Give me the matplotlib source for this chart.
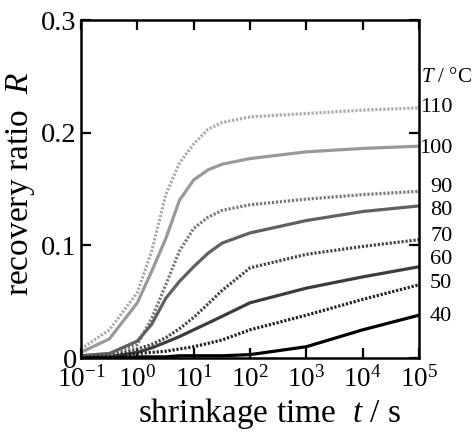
import matplotlib
matplotlib.use("Agg")
import matplotlib.pyplot as plt
from matplotlib.ticker import LogFormatterMathtext, FixedLocator, NullLocator

plt.rcParams['font.family'] = ['Liberation Serif', 'DejaVu Serif']
plt.rcParams['mathtext.fontset'] = 'custom'
plt.rcParams['mathtext.rm'] = 'Liberation Serif'
plt.rcParams['mathtext.it'] = 'Liberation Serif:italic'
plt.rcParams['mathtext.bf'] = 'Liberation Serif:bold'

# shrinkage time grid (s)
t = [0.1, 0.32, 1, 1.8, 3.2, 5.6, 10, 18, 32, 100, 1e3, 1e4, 1e5]

temps = [110, 100, 90, 80, 70, 60, 50, 40]
R110 = [0.008, 0.025, 0.058, 0.095, 0.145, 0.173, 0.190, 0.203, 0.209, 0.214, 0.217, 0.220, 0.222]
R100 = [0.005, 0.017, 0.049, 0.077, 0.106, 0.140, 0.158, 0.167, 0.172, 0.177, 0.183, 0.186, 0.188]
R90 = [0.002, 0.004, 0.012, 0.035, 0.065, 0.095, 0.115, 0.125, 0.131, 0.136, 0.141, 0.145, 0.148]
R80 = [0.002, 0.004, 0.015, 0.030, 0.053, 0.068, 0.081, 0.093, 0.102, 0.111, 0.122, 0.130, 0.135]
R70 = [0.001, 0.002, 0.008, 0.012, 0.018, 0.026, 0.036, 0.048, 0.060, 0.080, 0.092, 0.099, 0.105]
R60 = [0.000, 0.001, 0.005, 0.009, 0.014, 0.019, 0.025, 0.031, 0.037, 0.049, 0.062, 0.072, 0.081]
R50 = [0.000, 0.001, 0.004, 0.005, 0.006, 0.008, 0.010, 0.013, 0.016, 0.025, 0.038, 0.052, 0.065]
R40 = [0.000, 0.000, 0.001, 0.001, 0.001, 0.002, 0.002, 0.002, 0.002, 0.003, 0.010, 0.025, 0.038]
series = [R110, R100, R90, R80, R70, R60, R50, R40]

colors = ['#aaaaaa', '#999999', '#7a7a7a', '#606060', '#474747', '#3c3c3c', '#222222', '#000000']
dotted = [True, False, True, False, True, False, True, False]
label_y = [0.222, 0.186, 0.151, 0.131, 0.108, 0.087, 0.066, 0.037]

xticks = [1e-1, 1e0, 1e1, 1e2, 1e3, 1e4, 1e5]
yticks = [0, 0.1, 0.2, 0.3]

fig = plt.figure(figsize=(4.72, 4.32), dpi=100)
ax = fig.add_axes([81/472, 1-358/432, (419-81)/472, (358-20)/432])

for R, c, d in zip(series, colors, dotted):
    if d:
        ax.plot(t, R, color=c, lw=2.3, linestyle=(0, (0.7, 0.55)), dash_capstyle='butt')
    else:
        ax.plot(t, R, color=c, lw=2.3, solid_capstyle='butt')

ax.set_xscale('log')
ax.set_xlim(1e-1, 1e5)
ax.set_ylim(0, 0.3)
ax.xaxis.set_major_locator(FixedLocator(xticks))
ax.xaxis.set_minor_locator(NullLocator())
ax.xaxis.set_major_formatter(LogFormatterMathtext())
ax.set_yticks(yticks)
ax.set_yticklabels(['0', '0.1', '0.2', '0.3'])
ax.tick_params(which='major', direction='in', length=7, width=1.6,
               top=True, right=True)
ax.tick_params(axis='y', pad=3, labelsize=20.5)
ax.tick_params(axis='x', pad=6, labelsize=19.5)
for s in ax.spines.values():
    s.set_linewidth(1.8)

ax.set_xlabel('shrinkage time  $t$ / s', fontsize=24)
ax.xaxis.set_label_coords(0.559, -0.112)
ax.set_ylabel('recovery ratio  $R$', fontsize=24)
ax.yaxis.set_label_coords(-0.13, 0.515)

for T, yv in zip(temps, label_y):
    ax.annotate(str(T), xy=(1.0, yv), xycoords=('axes fraction', 'data'),
                xytext=(24, 0), textcoords='offset points', ha='right', va='center',
                fontsize=16)
ax.annotate('$T$ / °C', xy=(1.0, 0.249), xycoords=('axes fraction', 'data'),
            xytext=(1.5, 0), textcoords='offset points', ha='left', va='center', fontsize=15)

fig.savefig('out.png', dpi=100)
